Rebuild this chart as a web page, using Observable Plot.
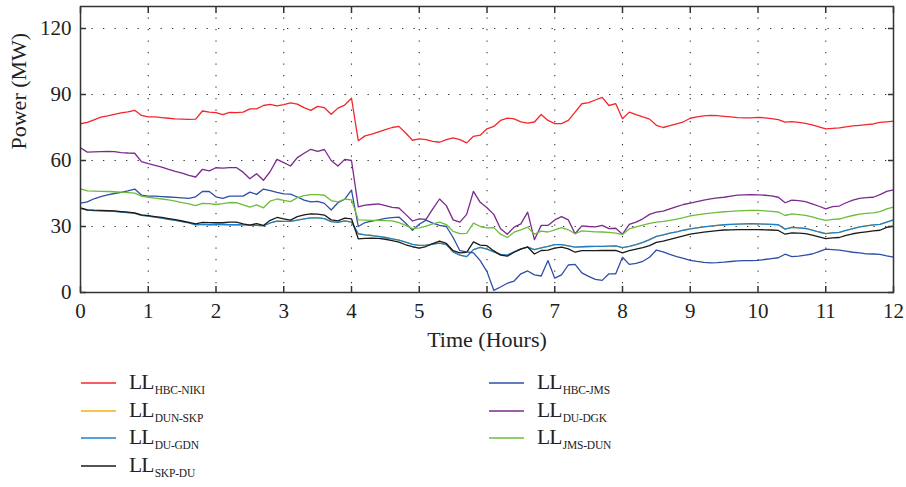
<!DOCTYPE html>
<html><head><meta charset="utf-8">
<script src="https://cdn.jsdelivr.net/npm/d3@7"></script>
<script src="https://cdn.jsdelivr.net/npm/@observablehq/plot@0.6"></script>
<style>
body{margin:0;background:#fff;font-family:"Liberation Serif",serif;}
#wrap{position:relative;width:906px;height:487px;overflow:hidden;}
#legend{position:absolute;left:0;top:0;width:906px;height:487px;}
.item{position:absolute;height:28px;display:flex;align-items:center;color:#222;}
.item svg{display:block;margin-right:13px;}
.ll{font-size:21.5px;line-height:1;letter-spacing:-0.8px;}
.ll sub{font-size:11.5px;letter-spacing:-0.2px;vertical-align:baseline;position:relative;top:5px;margin-left:1px;}
</style></head>
<body><div id="wrap"><div id="chart"></div><div id="legend"></div></div>
<script>
// sampling step of the time axis (hours)
const step = 0.1;
const xTicks = [0,1,2,3,4,5,6,7,8,9,10,11,12];
const yTicks = [0,30,60,90,120];
const seriesNames = ["HBC-NIKI","DUN-SKP","DU-GDN","SKP-DU","HBC-JMS","DU-DGK","JMS-DUN"];
const seriesColors = ["#f5262b","#f2b40c","#1c7fd0","#1a1a1a","#2f4ea6","#7b2a8e","#6cbd3a"];
const xTitle = "Time (Hours)";
const yTitle = "Power (MW)";

const hbcNiki = [76.7,77.3,78.5,79.7,80.3,81.0,81.6,82.1,82.8,80.5,
 79.8,79.8,79.5,79.2,78.9,78.8,78.7,78.8,82.5,82.0,
 81.8,80.9,81.9,81.8,82.0,83.5,83.5,85.0,85.5,84.8,
 85.4,86.2,85.6,84.0,82.8,84.6,84.0,81.0,83.8,85.2,
 88.3,69.0,71.2,72.0,73.0,74.0,75.0,75.5,72.5,69.2,
 69.8,69.5,68.7,68.3,69.5,70.3,69.5,68.0,71.0,71.5,
 74.4,75.5,78.2,79.3,78.9,77.6,77.0,77.5,80.9,78.2,
 76.8,76.8,78.2,82.0,85.8,86.3,87.5,88.7,85.0,85.8,
 79.0,82.0,80.9,79.8,78.8,76.0,75.0,75.8,76.7,77.6,
 79.2,79.8,80.3,80.5,80.4,80.1,79.8,79.5,79.4,79.4,
 79.6,79.4,79.0,78.6,77.4,77.7,77.3,76.9,76.2,75.3,
 74.4,74.6,74.8,75.3,75.7,76.0,76.3,76.6,77.3,77.6,
 77.9];
const dunSkp = [38.2,37.4,37.2,37.1,37.0,36.9,36.6,36.3,36.0,35.1,
 34.7,34.3,33.8,33.3,32.8,32.2,31.6,30.7,31.0,30.8,
 30.9,30.9,30.8,30.8,30.7,30.6,30.5,30.3,31.6,32.4,
 32.3,32.3,32.9,33.5,33.9,33.9,33.6,32.2,31.9,32.6,
 32.0,26.7,26.2,25.9,25.5,25.0,24.4,23.8,22.9,21.9,
 21.4,21.5,22.0,22.4,21.8,18.5,17.0,16.3,19.5,20.5,
 19.7,18.5,17.3,17.0,18.5,19.8,20.6,19.5,20.3,21.0,
 21.8,21.8,21.2,20.6,20.8,20.9,21.0,21.0,21.1,21.2,
 20.4,21.0,21.8,22.8,24.0,25.5,26.2,27.0,27.6,28.3,
 28.9,29.4,29.8,30.2,30.5,30.8,31.0,31.1,31.2,31.3,
 31.2,31.1,31.0,30.8,28.8,29.6,29.4,29.1,28.4,27.5,
 26.8,27.1,27.3,28.2,29.0,29.8,30.3,30.7,31.0,32.0,
 33.0];
const duGdn = [38.2,37.4,37.2,37.1,37.0,36.9,36.6,36.3,36.0,35.1,
 34.7,34.3,33.8,33.3,32.8,32.2,31.6,30.7,31.0,30.8,
 30.9,30.9,30.8,30.8,30.7,30.6,30.5,30.3,31.6,32.4,
 32.3,32.3,32.9,33.5,33.9,33.9,33.6,32.2,31.9,32.6,
 32.0,26.7,26.2,25.9,25.5,25.0,24.4,23.8,22.9,21.9,
 21.4,21.5,22.0,22.4,21.8,18.5,17.0,16.3,19.5,20.5,
 19.7,18.5,17.3,17.0,18.5,19.8,20.6,19.5,20.3,21.0,
 21.8,21.8,21.2,20.6,20.8,20.9,21.0,21.0,21.1,21.2,
 20.4,21.0,21.8,22.8,24.0,25.5,26.2,27.0,27.6,28.3,
 28.9,29.4,29.8,30.2,30.5,30.8,31.0,31.1,31.2,31.3,
 31.2,31.1,31.0,30.8,28.8,29.6,29.4,29.1,28.4,27.5,
 26.8,27.1,27.3,28.2,29.0,29.8,30.3,30.7,31.0,32.0,
 33.0];
const skpDu = [38.5,37.6,37.4,37.3,37.2,37.1,36.8,36.5,36.2,35.3,
 34.9,34.5,34.1,33.6,33.1,32.5,31.9,31.2,31.9,31.8,
 31.7,31.7,32.0,32.0,31.2,30.6,31.3,30.5,32.8,34.1,
 33.5,32.9,34.5,35.3,35.7,35.6,35.2,33.0,32.6,33.8,
 33.5,24.4,24.6,24.7,24.6,24.2,23.6,22.9,21.7,20.8,
 20.2,20.9,22.2,23.4,22.3,19.0,18.0,18.2,23.0,21.5,
 21.3,18.9,17.0,16.5,18.3,19.7,20.7,17.5,19.1,19.3,
 20.2,20.6,19.8,18.3,19.0,19.0,19.0,19.1,19.1,19.1,
 18.0,19.0,19.7,20.4,21.3,22.8,23.4,24.1,24.9,25.7,
 26.5,27.0,27.4,27.8,28.1,28.4,28.5,28.6,28.6,28.6,
 28.6,28.5,28.4,28.2,26.5,27.1,27.0,26.8,26.1,25.3,
 24.5,24.8,25.0,26.0,26.7,27.2,27.6,28.0,28.3,29.6,
 30.2];
const hbcJms = [40.6,41.2,42.6,43.6,44.4,45.0,45.5,46.2,47.0,44.3,
 43.8,43.8,43.6,43.4,43.2,43.0,42.8,43.5,45.9,45.9,
 43.5,42.8,43.8,43.8,43.8,45.6,44.6,47.0,46.3,45.5,
 44.8,44.7,43.4,42.0,41.2,41.4,40.5,37.5,40.8,42.4,
 46.5,30.0,31.8,32.4,33.0,33.7,34.0,34.3,31.5,28.3,
 31.0,32.9,31.5,30.5,30.0,25.0,19.0,18.5,18.0,14.5,
 9.5,1.0,2.5,4.2,5.2,8.5,9.8,8.0,7.5,14.5,
 6.5,8.0,12.5,12.8,8.9,7.3,6.0,5.5,8.5,8.5,
 16.0,12.8,13.2,14.2,16.0,19.3,18.5,17.3,16.3,15.5,
 14.6,14.1,13.7,13.5,13.6,13.8,14.1,14.4,14.5,14.5,
 14.6,15.0,15.4,15.8,17.4,16.3,16.5,17.0,17.5,18.6,
 19.7,19.5,19.3,18.8,18.3,18.0,17.6,17.5,17.3,16.6,
 16.1];
const duDgk = [65.8,63.8,63.9,64.0,64.1,64.0,63.6,63.4,63.3,59.5,
 58.6,57.8,57.0,56.0,55.1,54.3,53.2,52.5,56.0,55.3,
 56.7,56.5,56.8,56.8,54.7,51.7,54.0,51.0,55.0,60.5,
 59.0,57.5,61.3,63.3,65.1,64.2,65.0,60.0,57.5,60.5,
 60.0,38.9,39.7,40.0,40.3,39.5,38.7,38.4,35.5,32.5,
 33.5,33.2,38.0,42.5,39.5,33.0,32.0,35.5,46.0,41.0,
 38.5,35.5,29.0,26.5,29.7,31.2,36.5,24.0,30.5,30.5,
 33.0,34.5,33.0,26.7,30.3,30.0,29.8,30.5,29.0,29.2,
 26.5,31.0,32.0,33.5,35.5,36.5,37.0,38.0,39.0,40.0,
 40.6,41.3,42.0,42.6,43.0,43.3,43.8,44.3,44.4,44.5,
 44.4,44.2,43.9,43.3,40.8,42.0,41.8,41.3,40.3,39.2,
 38.0,39.0,39.3,40.8,42.0,42.8,43.1,43.3,44.5,46.0,
 46.7];
const jmsDun = [47.1,46.2,46.1,46.0,45.9,45.8,45.6,45.4,45.2,43.8,
 43.3,42.9,42.5,42.1,41.5,40.9,40.3,39.5,40.5,40.4,
 40.0,40.4,40.9,40.8,39.8,38.8,39.8,38.5,41.5,42.5,
 41.9,41.3,43.1,44.0,44.5,44.5,44.2,41.8,41.2,42.5,
 42.1,33.0,32.9,32.8,32.8,32.7,32.6,31.8,30.5,29.0,
 29.4,30.2,31.2,32.0,30.9,27.8,26.8,26.9,31.5,30.0,
 29.4,29.5,26.5,25.0,27.4,28.5,29.7,26.5,27.9,27.5,
 28.5,29.5,28.5,26.7,28.0,27.8,27.6,27.5,27.3,27.0,
 26.4,28.9,29.8,30.6,31.4,32.0,32.3,32.8,33.4,34.0,
 34.8,35.3,35.7,36.1,36.4,36.7,36.9,37.1,37.2,37.3,
 37.3,37.1,36.9,36.6,35.0,35.7,35.4,35.1,34.4,33.5,
 32.8,33.2,33.4,34.3,35.0,35.6,36.0,36.2,36.8,38.0,
 38.8];

const seriesValues = [hbcNiki, dunSkp, duGdn, skpDu, hbcJms, duDgk, jmsDun];
const rows = seriesNames.flatMap((name, k) =>
  seriesValues[k].map((v, i) => ({t: +(i * step).toFixed(2), v, s: name})));

const gridStyle = {stroke: "#333", strokeWidth: 1.1, strokeDasharray: "1.3,10.2"};
const axisStyle = {stroke: "#333", strokeWidth: 1.5, fontSize: 21};
const chart = Plot.plot({
  width: 906, height: 356,
  marginLeft: 80, marginRight: 13, marginTop: 6, marginBottom: 64,
  style: {fontFamily: "'Liberation Serif', serif", fontSize: "21px", color: "#222", background: "#fff"},
  x: {domain: [0, 12]},
  y: {domain: [0, 130]},
  color: {domain: seriesNames, range: seriesColors},
  marks: [
    Plot.ruleY(yTicks.filter(d => d > 0), gridStyle),
    Plot.ruleX(xTicks.filter(d => d > 0 && d < 12), gridStyle),
    Plot.line(rows, {x: "t", y: "v", z: "s", stroke: "s", strokeWidth: 1.3}),
    Plot.frame({stroke: "#333", strokeWidth: 1.5}),
    Plot.axisX(xTicks, {anchor: "bottom", tickSize: -6, tickPadding: 17, label: null, ...axisStyle}),
    Plot.axisX(xTicks, {anchor: "top", tickSize: -6, tickFormat: () => "", label: null, ...axisStyle}),
    Plot.axisY(yTicks, {anchor: "left", tickSize: -6, tickPadding: 15, label: null, ...axisStyle}),
    Plot.axisY(yTicks, {anchor: "right", tickSize: -6, tickFormat: () => "", label: null, ...axisStyle}),
    Plot.text([xTitle], {text: d => d, frameAnchor: "bottom", dy: 54, fontSize: 22, fill: "#222"}),
    Plot.text([yTitle], {text: d => d, frameAnchor: "left", dx: -62, rotate: -90, fontSize: 22, fill: "#222"})
  ]
});
document.getElementById("chart").appendChild(chart);

// legend
const legendPos = [[81,369],[81,397],[81,424],[81,452],[489,369],[489,397],[489,424]];
const legend = document.getElementById("legend");
seriesNames.forEach((name, k) => {
  const div = document.createElement("div");
  div.className = "item";
  div.style.left = legendPos[k][0] + "px";
  div.style.top = legendPos[k][1] + "px";
  div.innerHTML = `<svg width="35" height="4"><line x1="0" x2="35" y1="2" y2="2" stroke="${seriesColors[k]}" stroke-width="1.5"/></svg>` +
    `<span class="ll">LL<sub>${name}</sub></span>`;
  legend.appendChild(div);
});
</script>
</body></html>
